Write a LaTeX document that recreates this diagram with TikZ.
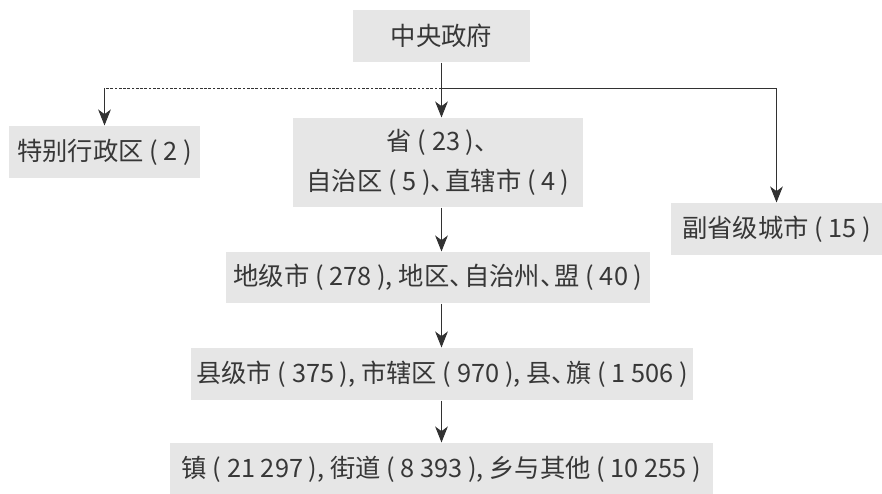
\documentclass[tikz,border=0pt]{standalone}
\usepackage{fontspec}
\setmainfont{Noto Sans CJK SC}
\usetikzlibrary{arrows.meta}
\definecolor{boxgray}{RGB}{230,230,230}
\definecolor{linegray}{RGB}{50,50,50}
\definecolor{textgray}{RGB}{55,55,55}
% narrow enumeration comma
\newcommand{\dunhao}{、\kern-0.42em}
\tikzset{every picture/.style={line width=0.75pt}}
\tikzset{
  unitbox/.style={fill=boxgray, text=textgray, inner sep=0pt, align=center,
    font=\fontsize{19}{30}\selectfont},
  down/.style={draw=linegray, -{Stealth[length=12pt,width=9.5pt,inset=3.5pt]}},
  branchline/.style={draw=linegray, dash pattern=on 2pt off 1.2pt},
}
\begin{document}
\begin{tikzpicture}[x=0.75pt,y=0.75pt,yscale=-1,xscale=1]
\useasboundingbox (0,0) rectangle (882,493);

%Shape: Rectangle [central government]
\node[unitbox, minimum width=132.75pt, minimum height=39pt] (gov) at (441.5,36) {中央政府};
%Shape: Rectangle [special administrative regions]
\node[unitbox, minimum width=143.25pt, minimum height=39pt] (sar) at (104.5,152) {特别行政区 ( 2 )};
%Shape: Rectangle [provinces]
\node[unitbox, minimum width=217.5pt, minimum height=66.75pt] (prov) at (438,162.5) {省 ( 23 )\dunhao\\自治区 ( 5 )\dunhao 直辖市 ( 4 )};
%Shape: Rectangle [sub-provincial cities]
\node[unitbox, minimum width=158.25pt, minimum height=39pt] (sub) at (776.5,229) {副省级城市 ( 15 )};
%Shape: Rectangle [prefecture level]
\node[unitbox, minimum width=318pt, minimum height=38.25pt] (pref) at (438,277.5) {地级市 ( 278 ), 地区\dunhao 自治州\dunhao 盟 ( 40 )};
%Shape: Rectangle [county level]
\node[unitbox, minimum width=376.5pt, minimum height=39pt] (cnty) at (442,374) {县级市 ( 375 ), 市辖区 ( 970 ), 县\dunhao 旗 ( 1 506 )};
%Shape: Rectangle [township level]
\node[unitbox, minimum width=407.25pt, minimum height=39pt] (town) at (441.5,469) {镇 ( 21 297 ), 街道 ( 8 393 ), 乡与其他 ( 10 255 )};

%Straight Lines [branch under the central government]
\coordinate (branch) at (gov.south |- 0,88);
\coordinate (sarturn) at (sar.north |- branch);
\draw[down] (gov.south) -- (gov.south |- prov.north);
\draw[branchline] (branch) -- (sarturn);
\draw[down] (sarturn) -- (sar.north);
\draw[down] (branch) -| (sub.north);

%Straight Lines [down the levels]
\draw[down] (prov.south -| gov.south) -- (pref.north -| gov.south);
\draw[down] (pref.south -| gov.south) -- (cnty.north -| gov.south);
\draw[down] (cnty.south -| gov.south) -- (town.north -| gov.south);

\end{tikzpicture}
\end{document}
